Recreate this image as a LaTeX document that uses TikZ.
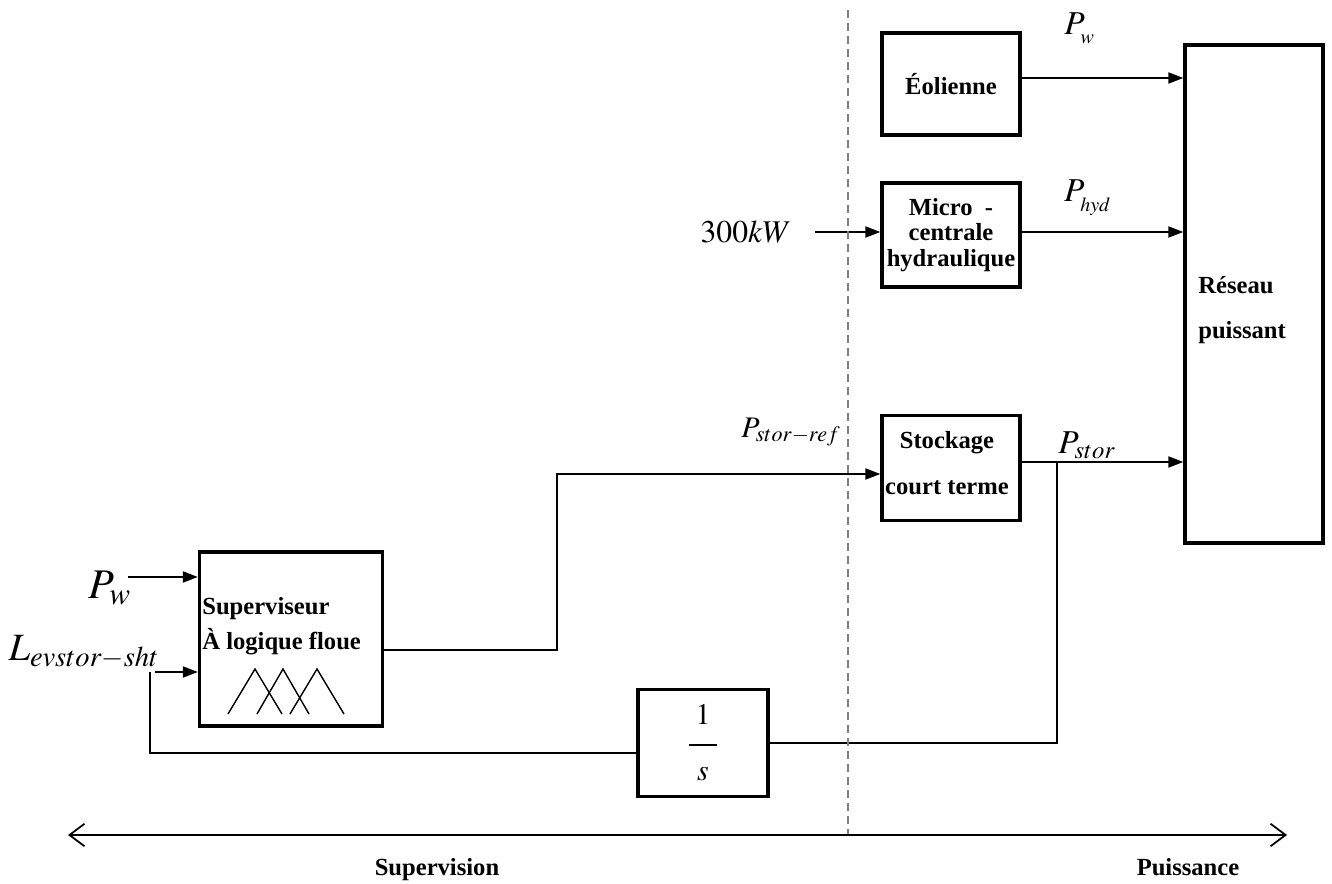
\documentclass[tikz,border=0pt]{standalone}
\usepackage{mathptmx}
\usepackage{fontspec}
\setmainfont{Liberation Serif}
\usetikzlibrary{arrows.meta,positioning,calc}

\begin{document}
\begin{tikzpicture}[x=0.02cm,y=-0.02cm,>={Triangle[length=0.3cm,width=0.22cm]},
box/.style={draw,line width=1.9pt,inner sep=0pt,align=center,font=\bfseries\fontsize{14}{14.5}\selectfont},
conn/.style={line width=1.1pt},
arr/.style={conn,->},
dim/.style={line width=1pt,-{Straight Barb[length=0.3cm,width=0.45cm]}},
lbl/.style={inner sep=0pt,font=\bfseries\fontsize{14}{17}\selectfont},
sig/.style={inner sep=0pt,font=\fontsize{19}{19}\selectfont}]
\useasboundingbox (0,0) rectangle (1332,884);
\node[box,minimum width=2.76cm,minimum height=2.04cm] (eol) at (951,84) {Éolienne};
\node[box,minimum width=2.76cm,minimum height=2.08cm] (mic) at (951,235) {Micro\ \ -\\centrale\\hydraulique};
\node[box,minimum width=2.76cm,minimum height=2.1cm] (stor) at (951,468) {};
\node[lbl,align=center] (stortxt) at (947,463) {Stockage\\[9pt]court terme};
\node[box,minimum width=2.76cm,minimum height=9.96cm] (res) at (1254,294) {};
\node[lbl,anchor=west,align=left] (restxt) at (1198,310) {Réseau\\[9pt]puissant};
\node[box,minimum width=3.66cm,minimum height=3.48cm] (sup) at (291,639) {};
\node[lbl,anchor=west,align=left] (suptxt) at (202,626) {Superviseur\\[3pt]À logique floue};
\foreach \a/\h in {255/27,283/26,317/27}{\draw[line width=0.8pt] (\a-\h,714)--(\a,669)--(\a+\h,714);}
\node[box,minimum width=2.6cm,minimum height=2.14cm,font=\fontsize{17}{17}\selectfont] (inv) at (703,743) {$\displaystyle\frac{\;1\rule[-9pt]{0pt}{0pt}\;}{\rule{0pt}{18pt}s}$};
\node[sig] (lpw) at (1080,28) {$P_{_w}$};
\node[sig] (lphyd) at (1088,198) {$P_{_{hyd}}$};
\node[sig] (lpstor) at (1087,445) {$P_{stor}$};
\node[sig,font=\fontsize{17}{17}\selectfont] (lpref) at (791,432) {$P_{stor-ref}$};
\node[sig,font=\fontsize{18}{18}\selectfont] (lkw) at (746,232) {$300kW$};
\node[sig,font=\fontsize{24}{24}\selectfont] (lpwin) at (110,588) {$P_w$};
\node[sig,font=\fontsize{22}{22}\selectfont] (lev) at (84,652) {$L_{evstor-sht}$};
\coordinate (kw) at (815,232);
\coordinate (pwin) at (128,577);
\coordinate (fb) at (150,672);
\coordinate (lin) at (155,672);
\coordinate (bend) at (557,474);
\coordinate (tap) at (1057,462);
\coordinate (mid) at (848,835);
\coordinate (lend) at (68,835);
\coordinate (rend) at (1287,835);
\draw[arr] (eol.east) ++(0,-6) coordinate (e1) -- (res.west|-e1);
\draw[arr] (mic.east) ++(0,-3) coordinate (m1) -- (res.west|-m1);
\draw[arr] (kw) -- (mic.west|-kw);
\draw[arr] (stor.east|-tap) -- (res.west|-tap);
\draw[conn] (tap) |- (inv.east);
\draw[arr] ($(sup.east)+(0,11)$) -| (bend) -- (stor.west|-bend);
\draw[arr] (pwin) -- (sup.west|-pwin);
\draw[conn] ($(inv.west)+(0,10)$) -| (fb);
\draw[arr] (lin) -- (sup.west|-lin);
\draw[gray,line width=0.6pt,dash pattern=on 0.16cm off 0.1cm] (848,10) -- (mid);
\draw[dim] (mid) -- (lend);
\draw[dim] (mid) -- (rend);
\node[lbl,anchor=base] (supv) at (437,875) {Supervision};
\node[lbl,anchor=base] (puis) at (1188,875) {Puissance};
\end{tikzpicture}
\end{document}
